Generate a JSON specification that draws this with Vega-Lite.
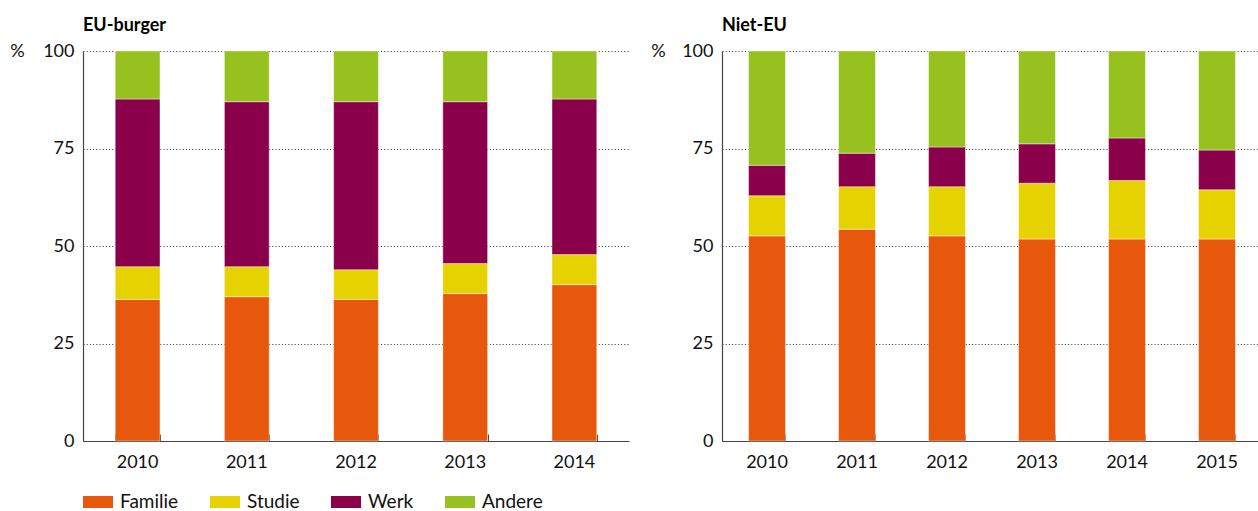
{
  "$schema": "https://vega.github.io/schema/vega-lite/v6.json",
  "padding": {"left": 9, "top": 17, "right": 0, "bottom": 0},
  "spacing": 21,
  "datasets": {
    "eu": [
      {"jaar": "2010", "motief": "Familie", "volgorde": 1, "pct": 36.3},
      {"jaar": "2010", "motief": "Studie", "volgorde": 2, "pct": 8.4},
      {"jaar": "2010", "motief": "Werk", "volgorde": 3, "pct": 43.0},
      {"jaar": "2010", "motief": "Andere", "volgorde": 4, "pct": 12.3},
      {"jaar": "2011", "motief": "Familie", "volgorde": 1, "pct": 37.0},
      {"jaar": "2011", "motief": "Studie", "volgorde": 2, "pct": 7.7},
      {"jaar": "2011", "motief": "Werk", "volgorde": 3, "pct": 42.3},
      {"jaar": "2011", "motief": "Andere", "volgorde": 4, "pct": 13.0},
      {"jaar": "2012", "motief": "Familie", "volgorde": 1, "pct": 36.3},
      {"jaar": "2012", "motief": "Studie", "volgorde": 2, "pct": 7.6},
      {"jaar": "2012", "motief": "Werk", "volgorde": 3, "pct": 43.1},
      {"jaar": "2012", "motief": "Andere", "volgorde": 4, "pct": 13.0},
      {"jaar": "2013", "motief": "Familie", "volgorde": 1, "pct": 37.8},
      {"jaar": "2013", "motief": "Studie", "volgorde": 2, "pct": 7.7},
      {"jaar": "2013", "motief": "Werk", "volgorde": 3, "pct": 41.5},
      {"jaar": "2013", "motief": "Andere", "volgorde": 4, "pct": 13.0},
      {"jaar": "2014", "motief": "Familie", "volgorde": 1, "pct": 40.1},
      {"jaar": "2014", "motief": "Studie", "volgorde": 2, "pct": 7.7},
      {"jaar": "2014", "motief": "Werk", "volgorde": 3, "pct": 39.9},
      {"jaar": "2014", "motief": "Andere", "volgorde": 4, "pct": 12.3}
    ],
    "nieteu": [
      {"jaar": "2010", "motief": "Familie", "volgorde": 1, "pct": 52.6},
      {"jaar": "2010", "motief": "Studie", "volgorde": 2, "pct": 10.3},
      {"jaar": "2010", "motief": "Werk", "volgorde": 3, "pct": 7.8},
      {"jaar": "2010", "motief": "Andere", "volgorde": 4, "pct": 29.3},
      {"jaar": "2011", "motief": "Familie", "volgorde": 1, "pct": 54.3},
      {"jaar": "2011", "motief": "Studie", "volgorde": 2, "pct": 10.9},
      {"jaar": "2011", "motief": "Werk", "volgorde": 3, "pct": 8.6},
      {"jaar": "2011", "motief": "Andere", "volgorde": 4, "pct": 26.2},
      {"jaar": "2012", "motief": "Familie", "volgorde": 1, "pct": 52.6},
      {"jaar": "2012", "motief": "Studie", "volgorde": 2, "pct": 12.6},
      {"jaar": "2012", "motief": "Werk", "volgorde": 3, "pct": 10.2},
      {"jaar": "2012", "motief": "Andere", "volgorde": 4, "pct": 24.6},
      {"jaar": "2013", "motief": "Familie", "volgorde": 1, "pct": 51.8},
      {"jaar": "2013", "motief": "Studie", "volgorde": 2, "pct": 14.3},
      {"jaar": "2013", "motief": "Werk", "volgorde": 3, "pct": 10.1},
      {"jaar": "2013", "motief": "Andere", "volgorde": 4, "pct": 23.8},
      {"jaar": "2014", "motief": "Familie", "volgorde": 1, "pct": 51.8},
      {"jaar": "2014", "motief": "Studie", "volgorde": 2, "pct": 15.0},
      {"jaar": "2014", "motief": "Werk", "volgorde": 3, "pct": 10.9},
      {"jaar": "2014", "motief": "Andere", "volgorde": 4, "pct": 22.3},
      {"jaar": "2015", "motief": "Familie", "volgorde": 1, "pct": 51.8},
      {"jaar": "2015", "motief": "Studie", "volgorde": 2, "pct": 12.6},
      {"jaar": "2015", "motief": "Werk", "volgorde": 3, "pct": 10.2},
      {"jaar": "2015", "motief": "Andere", "volgorde": 4, "pct": 25.4}
    ]
  },
  "hconcat": [
    {
      "data": {"name": "eu"},
      "width": 546,
      "height": 390,
      "title": {"text": "EU-burger"},
      "layer": [
        {
          "mark": {"type": "bar", "stroke": "white", "strokeWidth": 0.7, "strokeOpacity": 0.6},
          "encoding": {
            "x": {"field": "jaar", "type": "nominal", "title": null,
                  "scale": {"paddingInner": 0.59, "paddingOuter": 0.295},
                  "axis": {"orient": "bottom", "ticks": false}},
            "y": {"field": "pct", "type": "quantitative", "stack": "zero", "title": "%",
                  "scale": {"domain": [0, 100], "nice": false},
                  "axis": {"titleX": -66, "values": [0, 25, 50, 75, 100]}},
            "color": {"field": "motief", "type": "nominal", "title": null,
                      "scale": {"domain": ["Familie", "Studie", "Werk", "Andere"],
                                "range": ["#E8580C", "#E6D200", "#8B004B", "#96C11F"]},
                      "legend": {"orient": "none", "direction": "horizontal", "legendX": 0, "legendY": 436}},
            "order": {"field": "volgorde", "type": "quantitative", "sort": "ascending"}
          }
        },
        {
          "mark": {"type": "bar", "opacity": 0},
          "encoding": {
            "x": {"field": "jaar", "type": "nominal", "title": null,
                  "axis": {"orient": "top", "offset": -390, "labels": false, "domain": false,
                           "ticks": true, "tickSize": 7, "tickBand": "extent", "tickColor": "#444444", "grid": false}},
            "y": {"field": "pct", "type": "quantitative", "stack": "zero"}
          }
        }
      ],
      "resolve": {"axis": {"x": "independent"}}
    },
    {
      "data": {"name": "nieteu"},
      "width": 540,
      "height": 390,
      "title": {"text": "Niet-EU"},
      "layer": [
        {
          "mark": {"type": "bar", "stroke": "white", "strokeWidth": 0.7, "strokeOpacity": 0.6},
          "encoding": {
            "x": {"field": "jaar", "type": "nominal", "title": null,
                  "scale": {"paddingInner": 0.59, "paddingOuter": 0.295},
                  "axis": {"orient": "bottom", "ticks": false}},
            "y": {"field": "pct", "type": "quantitative", "stack": "zero", "title": "%",
                  "scale": {"domain": [0, 100], "nice": false},
                  "axis": {"titleX": -64, "values": [0, 25, 50, 75, 100]}},
            "color": {"field": "motief", "type": "nominal", "title": null,
                      "scale": {"domain": ["Familie", "Studie", "Werk", "Andere"],
                                "range": ["#E8580C", "#E6D200", "#8B004B", "#96C11F"]},
                      "legend": {"orient": "none", "direction": "horizontal", "legendX": 0, "legendY": 436}},
            "order": {"field": "volgorde", "type": "quantitative", "sort": "ascending"}
          }
        },
        {
          "mark": {"type": "bar", "opacity": 0},
          "encoding": {
            "x": {"field": "jaar", "type": "nominal", "title": null,
                  "axis": {"orient": "top", "offset": -390, "labels": false, "domain": false,
                           "ticks": true, "tickSize": 7, "tickBand": "extent", "tickColor": "#444444", "grid": false}},
            "y": {"field": "pct", "type": "quantitative", "stack": "zero"}
          }
        }
      ],
      "resolve": {"axis": {"x": "independent"}}
    }
  ],
  "resolve": {"scale": {"x": "independent", "y": "independent"}},
  "config": {
    "font": "Lato",
    "view": {"stroke": null},
    "title": {"anchor": "start", "frame": "group", "fontSize": 18, "fontWeight": "bold", "font": "Lato", "color": "#000000", "offset": 7},
    "axisX": {
      "labelAngle": 0, "labelFontSize": 18, "labelColor": "#111111", "labelFont": "Lato",
      "domainColor": "#444444", "domainWidth": 1.2,
      "labelPadding": 12, "grid": false
    },
    "axisY": {
      "labelFontSize": 18, "labelColor": "#111111", "labelFont": "Lato",
      "labelPadding": 9, "ticks": false,
      "domainColor": "#444444", "domainWidth": 1.2,
      "grid": true, "gridColor": "#333333", "gridDash": [1, 2.2], "gridWidth": 1,
      "titleAngle": 0, "titleY": 0, "titleBaseline": "middle", "titleAlign": "center",
      "titleFontSize": 18, "titleFontWeight": "normal", "titleFont": "Lato", "titleColor": "#111111"
    },
    "legend": {
      "symbolType": "M-1,-0.4H1V0.4H-1Z", "symbolSize": 900, "symbolStrokeWidth": 0, "symbolOpacity": 1,
      "labelFontSize": 19, "labelFont": "Lato", "labelColor": "#111111", "labelOffset": 7,
      "columnPadding": 31
    }
  }
}
